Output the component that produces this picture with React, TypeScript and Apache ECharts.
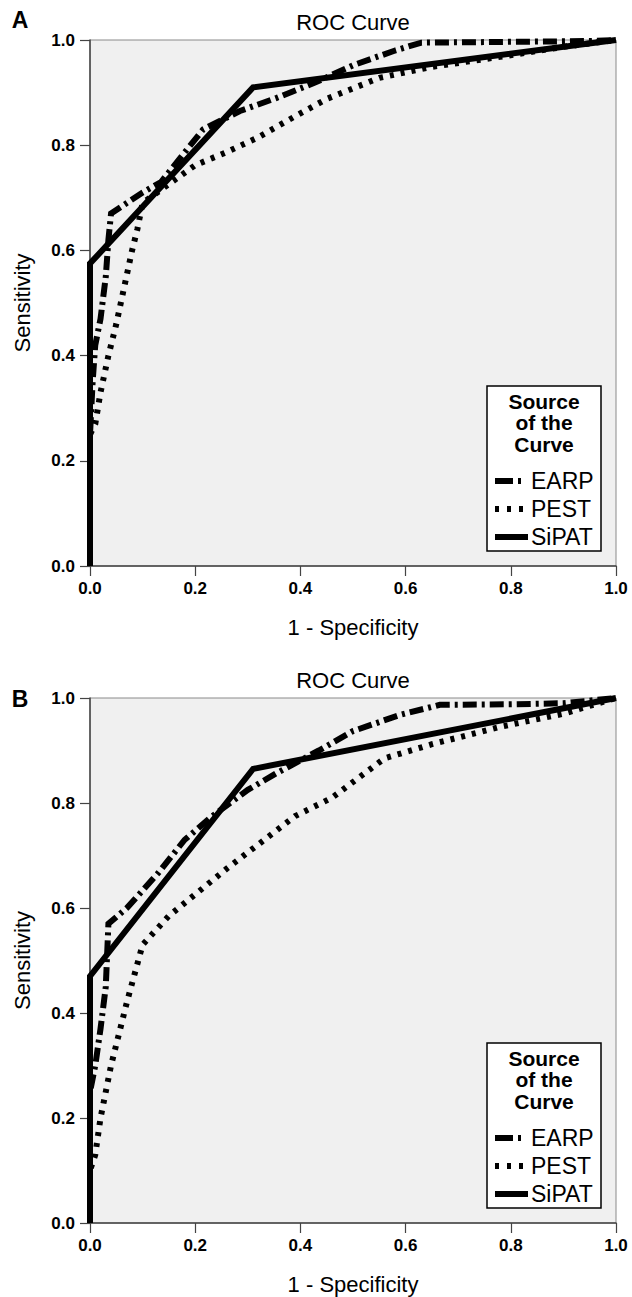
import React, { useEffect, useRef } from "react";
import * as echarts from "echarts";

// ---------- data ----------
const TICK_INTERVAL = 0.2;
const LEGEND_TITLE = ["Source", "of the", "Curve"];
const SERIES_NAMES = ["EARP", "PEST", "SiPAT"];
const PANEL_LETTERS = ["A", "B"];
const CHART_TITLE = "ROC Curve";
const X_NAME = "1 - Specificity";
const Y_NAME = "Sensitivity";

// Panel A
const A_EARP_X = [0, 0, 0.005, 0.01, 0.02, 0.03, 0.035, 0.04, 0.1, 0.135, 0.175, 0.215, 0.285, 0.355, 0.43, 0.5, 0.58, 0.63, 0.75, 0.85, 0.95, 1];
const A_EARP_Y = [0, 0.25, 0.35, 0.42, 0.47, 0.55, 0.62, 0.67, 0.71, 0.73, 0.78, 0.83, 0.865, 0.89, 0.92, 0.952, 0.98, 0.995, 0.996, 0.997, 0.998, 1];
const A_PEST_X = [0, 0, 0.01, 0.02, 0.035, 0.05, 0.065, 0.08, 0.09, 0.1, 0.2, 0.26, 0.32, 0.39, 0.45, 0.55, 0.65, 0.78, 0.9, 1];
const A_PEST_Y = [0, 0.25, 0.27, 0.33, 0.4, 0.46, 0.53, 0.6, 0.64, 0.69, 0.762, 0.787, 0.815, 0.855, 0.888, 0.928, 0.949, 0.968, 0.987, 1];
const A_SIPAT_X = [0, 0, 0.31, 1];
const A_SIPAT_Y = [0, 0.575, 0.91, 1];

// Panel B
const B_EARP_X = [0, 0, 0.01, 0.02, 0.03, 0.035, 0.07, 0.13, 0.18, 0.23, 0.3, 0.355, 0.435, 0.5, 0.59, 0.665, 0.8, 0.9, 1];
const B_EARP_Y = [0, 0.25, 0.3, 0.37, 0.45, 0.57, 0.6, 0.667, 0.73, 0.773, 0.825, 0.857, 0.9, 0.937, 0.968, 0.987, 0.988, 0.99, 1];
const B_PEST_X = [0, 0, 0.01, 0.02, 0.04, 0.07, 0.1, 0.15, 0.26, 0.39, 0.46, 0.56, 0.65, 0.78, 0.9, 1];
const B_PEST_Y = [0, 0.1, 0.13, 0.2, 0.3, 0.42, 0.53, 0.585, 0.675, 0.775, 0.81, 0.885, 0.912, 0.945, 0.97, 1];
const B_SIPAT_X = [0, 0, 0.31, 1];
const B_SIPAT_Y = [0, 0.47, 0.865, 1];

// ---------- layout / style ----------
const W = 632;
const H = 1297;
const FONT = "'Liberation Sans', Arial, Helvetica, sans-serif";
const GRIDS = [
  { left: 90, top: 40, width: 526, height: 526 },
  { left: 90, top: 698, width: 526, height: 525 },
];
const LETTER_Y = [20, 699];
const DASHES: Record<string, any> = {
  EARP: [14, 5, 3, 5],
  PEST: [4, 7],
  SiPAT: "solid",
};

const zip = (xs: number[], ys: number[]) => xs.map((x, i) => [x, ys[i]]);

const PANEL_DATA = [
  { EARP: zip(A_EARP_X, A_EARP_Y), PEST: zip(A_PEST_X, A_PEST_Y), SiPAT: zip(A_SIPAT_X, A_SIPAT_Y) },
  { EARP: zip(B_EARP_X, B_EARP_Y), PEST: zip(B_PEST_X, B_PEST_Y), SiPAT: zip(B_SIPAT_X, B_SIPAT_Y) },
];

function buildOption() {
  const grid: any[] = [];
  const xAxis: any[] = [];
  const yAxis: any[] = [];
  const series: any[] = [];
  const graphic: any[] = [];

  GRIDS.forEach((g, pi) => {
    grid.push({
      left: g.left,
      top: g.top,
      width: g.width,
      height: g.height,
      show: true,
      backgroundColor: "#f0f0f0",
      borderColor: "#8a8a8a",
      borderWidth: 1,
    });
    const axisCommon = {
      gridIndex: pi,
      type: "value",
      min: 0,
      max: 1,
      interval: TICK_INTERVAL,
      nameLocation: "middle",
      nameTextStyle: { fontSize: 22, color: "#000", fontFamily: FONT },
      axisLine: { show: true, onZero: false, lineStyle: { color: "#444", width: 1.5 } },
      axisTick: { show: true, inside: false, length: 10, lineStyle: { color: "#444", width: 1.2 } },
      axisLabel: {
        formatter: (v: number) => v.toFixed(1),
        fontWeight: "bold",
        fontSize: 17,
        color: "#000",
        fontFamily: FONT,
      },
      splitLine: { show: false },
    };
    xAxis.push({
      ...axisCommon,
      name: X_NAME,
      nameGap: 50,
      axisLabel: { ...axisCommon.axisLabel, margin: 14 },
    });
    yAxis.push({
      ...axisCommon,
      name: Y_NAME,
      nameGap: 57,
      axisLabel: { ...axisCommon.axisLabel, margin: 15 },
    });

    SERIES_NAMES.forEach((name) => {
      series.push({
        type: "line",
        name,
        xAxisIndex: pi,
        yAxisIndex: pi,
        data: (PANEL_DATA[pi] as any)[name],
        showSymbol: false,
        symbol: "none",
        silent: true,
        lineStyle: { color: "#000", width: 6, type: DASHES[name], cap: "butt", join: "miter" },
        z: name === "SiPAT" ? 4 : 3,
      });
    });

    const cx = g.left + g.width / 2;
    graphic.push({
      type: "text",
      x: cx,
      y: g.top - 18,
      style: {
        text: CHART_TITLE,
        fontSize: 22,
        fontFamily: FONT,
        fill: "#000",
        align: "center",
        verticalAlign: "middle",
        textAlign: "center",
        textVerticalAlign: "middle",
      },
    });
    graphic.push({
      type: "text",
      x: 20,
      y: LETTER_Y[pi],
      style: {
        text: PANEL_LETTERS[pi],
        fontSize: 23,
        fontWeight: "bold",
        fontFamily: FONT,
        fill: "#000",
        align: "center",
        verticalAlign: "middle",
        textAlign: "center",
        textVerticalAlign: "middle",
      },
    });

    // legend box
    const bw = 114;
    const bh = 165;
    const bx = g.left + g.width - 15 - bw;
    const by = g.top + g.height - 15 - bh;
    graphic.push({
      type: "rect",
      shape: { x: bx, y: by, width: bw, height: bh },
      style: { fill: "#ffffff", stroke: "#000", lineWidth: 1.5 },
      z: 10,
    });
    LEGEND_TITLE.forEach((t, i) => {
      graphic.push({
        type: "text",
        x: bx + bw / 2,
        y: by + 15 + i * 21.5,
        z: 11,
        style: {
          text: t,
          fontSize: 21,
          fontWeight: "bold",
          fontFamily: FONT,
          fill: "#000",
          align: "center",
          verticalAlign: "middle",
          textAlign: "center",
          textVerticalAlign: "middle",
        },
      });
    });
    SERIES_NAMES.forEach((name, i) => {
      const iy = by + 95 + i * 28;
      graphic.push({
        type: "line",
        z: 11,
        shape: { x1: bx + 8, y1: iy, x2: bx + 41, y2: iy },
        style: {
          stroke: "#000",
          lineWidth: 6,
          lineDash: name === "EARP" ? [18, 5, 3, 10] : name === "PEST" ? [4, 8] : null,
          lineCap: "butt",
        },
      });
      graphic.push({
        type: "text",
        x: bx + 44,
        y: iy,
        z: 11,
        style: {
          text: name,
          fontSize: 23,
          fontFamily: FONT,
          fill: "#000",
          align: "left",
          verticalAlign: "middle",
          textAlign: "left",
          textVerticalAlign: "middle",
        },
      });
    });
  });

  return {
    animation: false,
    backgroundColor: "#ffffff",
    grid,
    xAxis,
    yAxis,
    series,
    graphic,
  };
}

export default function App() {
  const ref = useRef<HTMLDivElement>(null);
  useEffect(() => {
    document.body.style.margin = "0";
    if (!ref.current) return;
    const chart = echarts.init(ref.current, undefined, { renderer: "svg" });
    chart.setOption(buildOption() as any);
    return () => chart.dispose();
  }, []);
  return <div ref={ref} style={{ width: W, height: H }} />;
}
